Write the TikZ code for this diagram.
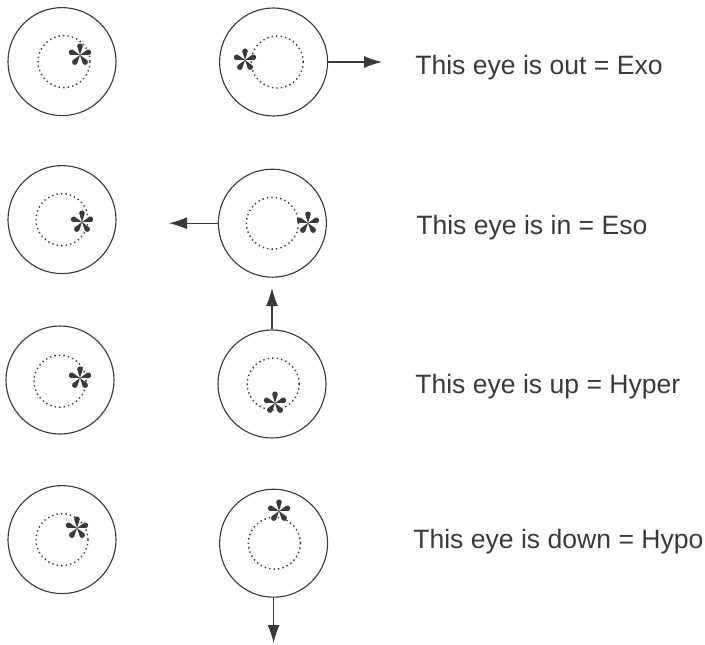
\documentclass[tikz,border=0pt]{standalone}
\usepackage{fontspec}
\setmainfont{Liberation Sans}
\usepackage{tikz}
\usetikzlibrary{arrows.meta, calc, positioning}

\definecolor{ink}{HTML}{3A3A3A}

\tikzset{
  eye/.style={circle, draw=ink, line width=0.8pt, minimum size=2.7cm, inner sep=0pt},
  pupil/.style={draw=ink, line width=1pt, dash pattern=on 1pt off 2.2pt},
  move/.style={draw=ink, line width=0.8pt, -{Latex[length=0.45cm, width=0.3cm]}},
  eyetext/.style={anchor=base west, inner sep=0pt, text=ink, font=\fontsize{18.9pt}{22pt}\selectfont},
  % five petal spot
  spot/.pic={
    \foreach \a in {90,18,162,234,306}
      \fill[ink, rotate=\a] (0,0) -- (0.22,-0.07) arc (-90:90:0.07) -- cycle;
  }
}

\begin{document}
\begin{tikzpicture}
  \useasboundingbox (0,0) rectangle (17.625,-16.125);
  % Eyes: name / centre / pupil offset / spot position
  \foreach \n/\ex/\ey/\dx/\dy/\sx/\sy in {
      L1/1.55/-1.54/0.05/0/2.0/-1.375,
      R1/6.84/-1.55/0.09/0/6.125/-1.5,
      L2/1.55/-5.49/0/0/2.05/-5.55,
      R2/6.81/-5.58/0/0/7.7/-5.575,
      L3/1.5/-9.5/0/-0.03/2.0/-9.45,
      R3/6.8/-9.6/0.03/0/6.875/-10.075,
      L4/1.55/-13.49/0/0/1.925/-13.2,
      R4/6.84/-13.58/0.02/0/6.975/-12.775}
  {
    \node[eye] (eye\n) at (\ex,\ey) {};
    \draw[pupil] ($(\ex,\ey)+(\dx,\dy)$) circle (0.65);
    \pic at (\sx,\sy) {spot};
  }
  % Arrow ends
  \coordinate (out)  at (9.55,-1.55);
  \coordinate (in)   at (4.225,-5.58);
  \coordinate (up)   at (6.8,-7.2);
  \coordinate (down) at (6.84,-16.075);
  % Movements
  \draw[move] (eyeR1.east)  -- (out);
  \draw[move] (eyeR2.west)  -- (in);
  \draw[move] (eyeR3.north) -- (up);
  \draw[move] (eyeR4.south) -- (down);
  % Labels
  \node[eyetext] (t1) at (10.375,-1.85)  {This eye is out = Exo};
  \node[eyetext] (t2) at (10.4,-5.85)    {This eye is in = Eso};
  \node[eyetext] (t3) at (10.375,-9.825) {This eye is up = Hyper};
  \node[eyetext] (t4) at (10.325,-13.7)  {This eye is down = Hypo};
\end{tikzpicture}
\end{document}
